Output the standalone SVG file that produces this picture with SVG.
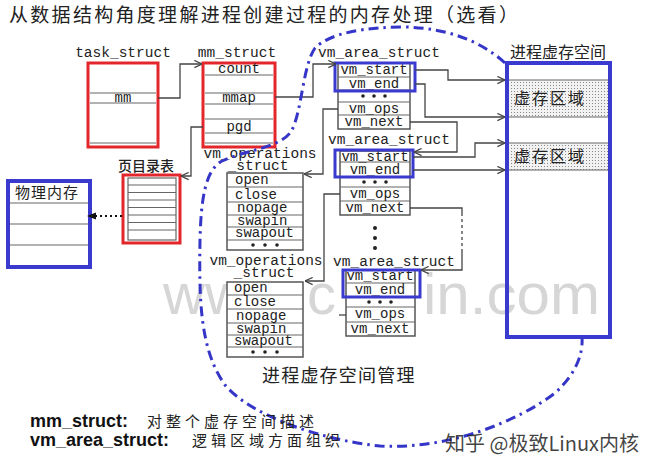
<svg xmlns="http://www.w3.org/2000/svg" width="650" height="471" viewBox="0 0 650 471">
<defs>
<style>
.mono{font-family:"Liberation Mono","DejaVu Sans Mono",monospace;font-size:14px;fill:#222}
.lbl{font-size:14.5px}
.cjk{font-family:"Noto Sans CJK SC","Noto Sans",sans-serif;fill:#222}
.box{fill:#fff;stroke:#555;stroke-width:1.5}
.row{stroke:#666;stroke-width:1.2}
.red{fill:#fff;stroke:#e3262b;stroke-width:3}
.hl{fill:none;stroke:#3a3acf;stroke-width:3}
.conn{fill:none;stroke:#444;stroke-width:1.3;marker-end:url(#arr)}
.dot{fill:#222}
.wm{font-family:"Liberation Sans",Arial,sans-serif;font-size:58px;fill:#d6d6d6}
</style>
<marker id="arr" viewBox="0 0 10 10" refX="9.5" refY="5" markerWidth="9" markerHeight="9" orient="auto" markerUnits="userSpaceOnUse">
<path d="M1,1 L9.5,5 L1,9" fill="none" stroke="#444" stroke-width="1.3"/>
</marker>
<marker id="arrf" viewBox="0 0 10 10" refX="10" refY="5" markerWidth="9" markerHeight="9" orient="auto" markerUnits="userSpaceOnUse">
<path d="M0,1 L10,5 L0,9 Z" fill="#111"/>
</marker>
<pattern id="dots" width="3" height="3" patternUnits="userSpaceOnUse">
<rect width="3" height="3" fill="#f2f2f2"/>
<rect x="1" y="1" width="1" height="1" fill="#888"/>
</pattern>
</defs>
<rect width="650" height="471" fill="#fff"/>

<g id="title">
<text x="9" y="22" class="cjk" font-size="19" letter-spacing="2.3" fill="#111">从数据结构角度理解进程创建过程的内存处理（选看）</text>
</g>

<g id="watermark">
<text x="163" y="314" class="wm" font-size="46">ww</text>
<text x="307" y="314" class="wm">c</text>
<text x="423" y="314" class="wm" textLength="177" lengthAdjust="spacingAndGlyphs">in.com</text>
</g>

<g id="task_struct">
<text x="123" y="57" text-anchor="middle" class="mono lbl">task_struct</text>
<rect x="88" y="63" width="70" height="84" class="red"/>
<line x1="90" y1="93" x2="156" y2="93" class="row"/>
<line x1="90" y1="103" x2="156" y2="103" class="row"/>
<line x1="90" y1="143" x2="156" y2="143" class="row"/>
<text x="123" y="102" text-anchor="middle" class="mono" font-size="12">mm</text>
</g>

<g id="mm_struct">
<text x="237" y="57" text-anchor="middle" class="mono lbl">mm_struct</text>
<rect x="203" y="63" width="72" height="84" class="red"/>
<line x1="205" y1="75" x2="273" y2="75" class="row"/>
<line x1="205" y1="93" x2="273" y2="93" class="row"/>
<line x1="205" y1="104" x2="273" y2="104" class="row"/>
<line x1="205" y1="119" x2="273" y2="119" class="row"/>
<line x1="205" y1="133" x2="273" y2="133" class="row"/>
<line x1="205" y1="143" x2="273" y2="143" class="row"/>
<text x="239" y="73" text-anchor="middle" class="mono">count</text>
<text x="239" y="102" text-anchor="middle" class="mono">mmap</text>
<text x="239" y="131" text-anchor="middle" class="mono">pgd</text>
</g>

<g id="page_table">
<text x="118" y="171" class="cjk" font-size="14" font-weight="500">页目录表</text>
<rect x="123" y="175" width="57" height="68" class="red"/>
<rect x="128" y="178" width="48" height="62" fill="none" stroke="#666" stroke-width="1.2"/>
<line x1="128" y1="185" x2="176" y2="185" class="row"/>
<line x1="128" y1="192.5" x2="176" y2="192.5" class="row"/>
<line x1="128" y1="200" x2="176" y2="200" class="row"/>
<line x1="128" y1="207.5" x2="176" y2="207.5" class="row"/>
<line x1="128" y1="215" x2="176" y2="215" class="row"/>
<line x1="128" y1="222.5" x2="176" y2="222.5" class="row"/>
<line x1="128" y1="230" x2="176" y2="230" class="row"/>
</g>

<g id="physical_memory">
<rect x="8" y="181" width="82" height="86" fill="#fff" stroke="#3a3acf" stroke-width="4"/>
<line x1="10" y1="203" x2="88" y2="203" class="row"/>
<line x1="10" y1="224" x2="88" y2="224" class="row"/>
<line x1="10" y1="245" x2="88" y2="245" class="row"/>
<text x="15" y="198" class="cjk" font-size="15" letter-spacing="1" fill="#333">物理内存</text>
</g>

<g id="vm_area_1">
<text x="379" y="57" text-anchor="middle" class="mono lbl">vm_area_struct</text>
<rect x="338" y="63" width="72" height="66" class="box"/>
<line x1="338" y1="77" x2="410" y2="77" class="row"/>
<line x1="338" y1="90" x2="410" y2="90" class="row"/>
<line x1="338" y1="102" x2="410" y2="102" class="row"/>
<line x1="338" y1="115" x2="410" y2="115" class="row"/>
<text x="374" y="74" text-anchor="middle" class="mono">vm_start</text>
<text x="374" y="88" text-anchor="middle" class="mono">vm_end</text>
<circle cx="363" cy="96" r="1.8" class="dot"/><circle cx="374" cy="96" r="1.8" class="dot"/><circle cx="385" cy="96" r="1.8" class="dot"/>
<text x="374" y="113" text-anchor="middle" class="mono">vm_ops</text>
<text x="374" y="126" text-anchor="middle" class="mono">vm_next</text>
<rect x="335" y="63" width="80" height="28" class="hl"/>
</g>

<g id="vm_area_2">
<text x="389" y="144" text-anchor="middle" class="mono lbl">vm_area_struct</text>
<rect x="340" y="151" width="70" height="64" class="box"/>
<line x1="340" y1="162" x2="410" y2="162" class="row"/>
<line x1="340" y1="177" x2="410" y2="177" class="row"/>
<line x1="340" y1="187" x2="410" y2="187" class="row"/>
<line x1="340" y1="201" x2="410" y2="201" class="row"/>
<text x="375" y="161" text-anchor="middle" class="mono">vm_start</text>
<text x="375" y="174" text-anchor="middle" class="mono">vm_end</text>
<circle cx="364" cy="182" r="1.8" class="dot"/><circle cx="375" cy="182" r="1.8" class="dot"/><circle cx="386" cy="182" r="1.8" class="dot"/>
<text x="375" y="198" text-anchor="middle" class="mono">vm_ops</text>
<text x="375" y="212" text-anchor="middle" class="mono">vm_next</text>
<rect x="335" y="150" width="78" height="27" class="hl"/>
</g>

<g id="ellipsis">
<circle cx="375" cy="228" r="2" class="dot"/>
<circle cx="375" cy="238" r="2" class="dot"/>
<circle cx="375" cy="248" r="2" class="dot"/>
</g>

<g id="vm_area_3">
<text x="394" y="266" text-anchor="middle" class="mono lbl">vm_area_struct</text>
<rect x="346" y="270" width="69" height="66" class="box"/>
<line x1="346" y1="283" x2="415" y2="283" class="row"/>
<line x1="346" y1="297" x2="415" y2="297" class="row"/>
<line x1="346" y1="307" x2="415" y2="307" class="row"/>
<line x1="346" y1="322" x2="415" y2="322" class="row"/>
<text x="380" y="280" text-anchor="middle" class="mono">vm_start</text>
<text x="380" y="294" text-anchor="middle" class="mono">vm_end</text>
<circle cx="369" cy="302" r="1.8" class="dot"/><circle cx="380" cy="302" r="1.8" class="dot"/><circle cx="391" cy="302" r="1.8" class="dot"/>
<text x="380" y="318" text-anchor="middle" class="mono">vm_ops</text>
<text x="380" y="333" text-anchor="middle" class="mono">vm_next</text>
<rect x="343" y="270" width="77" height="27" class="hl"/>
</g>

<g id="vm_ops_1">
<text x="260" y="158" text-anchor="middle" class="mono lbl">vm_operations</text>
<text x="258" y="170" text-anchor="middle" class="mono lbl">_struct</text>
<rect x="227" y="173" width="76" height="77" class="box"/>
<line x1="227" y1="187" x2="303" y2="187" class="row"/>
<line x1="227" y1="202" x2="303" y2="202" class="row"/>
<line x1="227" y1="215" x2="303" y2="215" class="row"/>
<line x1="227" y1="227" x2="303" y2="227" class="row"/>
<line x1="227" y1="240" x2="303" y2="240" class="row"/>
<text x="235" y="184" class="mono">open</text>
<text x="235" y="199" class="mono">close</text>
<text x="237" y="212" class="mono">nopage</text>
<text x="237" y="225" class="mono">swapin</text>
<text x="235" y="237" class="mono">swapout</text>
<circle cx="253" cy="245" r="1.8" class="dot"/><circle cx="265" cy="245" r="1.8" class="dot"/><circle cx="277" cy="245" r="1.8" class="dot"/>
</g>

<g id="vm_ops_2">
<text x="266" y="265" text-anchor="middle" class="mono lbl">vm_operations</text>
<text x="264" y="277" text-anchor="middle" class="mono lbl">_struct</text>
<rect x="227" y="282" width="76" height="75" class="box"/>
<line x1="227" y1="295" x2="303" y2="295" class="row"/>
<line x1="227" y1="309" x2="303" y2="309" class="row"/>
<line x1="227" y1="323" x2="303" y2="323" class="row"/>
<line x1="227" y1="335" x2="303" y2="335" class="row"/>
<line x1="227" y1="347" x2="303" y2="347" class="row"/>
<text x="234" y="292" class="mono">open</text>
<text x="234" y="306" class="mono">close</text>
<text x="236" y="320" class="mono">nopage</text>
<text x="236" y="333" class="mono">swapin</text>
<text x="234" y="345" class="mono">swapout</text>
<circle cx="253" cy="352" r="1.8" class="dot"/><circle cx="265" cy="352" r="1.8" class="dot"/><circle cx="277" cy="352" r="1.8" class="dot"/>
</g>

<g id="connectors">
<path d="M158,98 H180 V64 H202" class="conn"/>
<path d="M275,97 H313 V64 H336" class="conn"/>
<path d="M203,127 H191 V176 H181" class="conn"/>
<line x1="122" y1="216" x2="87" y2="216" stroke="#111" stroke-width="2" stroke-dasharray="2 3" marker-end="url(#arrf)"/>
<path d="M415,70 H448 V80 H505" class="conn"/>
<path d="M415,84 H425 V117 H505" class="conn"/>
<path d="M410,122 H457 V152 H414" class="conn"/>
<path d="M338,109 H323 V174 H304" class="conn"/>
<path d="M413,157 H475 V143 H505" class="conn"/>
<path d="M413,170 H505" class="conn"/>
<path d="M340,194 H324 V281 H305" class="conn"/>
<path d="M410,208 H462 V213" fill="none" stroke="#444" stroke-width="1.3"/>
<path d="M462,213 V252" fill="none" stroke="#444" stroke-width="1.3" stroke-dasharray="3 3"/>
<path d="M462,252 V270 H421" class="conn"/>
<line x1="346" y1="315" x2="339" y2="315" stroke="#444" stroke-width="1.3"/>
</g>

<g id="process_space_boundary">
<path d="M505,63 C480,40 445,28 405,27 C365,27 330,33 315,48 C303,65 302,110 292,130 C282,148 245,150 222,161 C205,170 201,200 200,240 C199,300 200,350 225,385 C250,415 320,440 380,446 C450,450 520,420 555,393 C578,372 583,352 582,337" fill="none" stroke="#3535c8" stroke-width="3" stroke-dasharray="10 5 2.5 5"/>
<text x="262" y="382" class="cjk" font-size="18" letter-spacing="1.2">进程虚存空间管理</text>
</g>

<g id="process_virtual_space">
<text x="510" y="58" class="cjk" font-size="16">进程虚存空间</text>
<rect x="509" y="80" width="99" height="37" fill="url(#dots)"/>
<rect x="509" y="143" width="99" height="27" fill="url(#dots)"/>
<line x1="509" y1="80" x2="608" y2="80" class="row"/>
<line x1="509" y1="117" x2="608" y2="117" class="row"/>
<line x1="509" y1="143" x2="608" y2="143" class="row"/>
<line x1="509" y1="170" x2="608" y2="170" class="row"/>
<rect x="507" y="63" width="103" height="274" fill="none" stroke="#3a3acf" stroke-width="4"/>
<text x="550" y="104" text-anchor="middle" class="cjk" font-size="16" letter-spacing="2" fill="#333">虚存区域</text>
<text x="550" y="162" text-anchor="middle" class="cjk" font-size="16" letter-spacing="2" fill="#333">虚存区域</text>
</g>

<g id="legend">
<text x="30" y="427" font-family="Liberation Sans,Arial,sans-serif" font-size="18" font-weight="bold" fill="#111">mm_struct:</text>
<text x="147" y="427" class="cjk" font-size="15" letter-spacing="4">对整个虚存空间描述</text>
<text x="30" y="446" font-family="Liberation Sans,Arial,sans-serif" font-size="18" font-weight="bold" fill="#111">vm_area_struct:</text>
<text x="192" y="446" class="cjk" font-size="15" letter-spacing="4">逻辑区域方面组织</text>
</g>

<g id="zhihu_watermark">
<text x="445" y="451" class="cjk" font-size="20" fill="#bdbdbd" fill-opacity="0.85">知乎 @极致Linux内核</text>
</g>
</svg>
